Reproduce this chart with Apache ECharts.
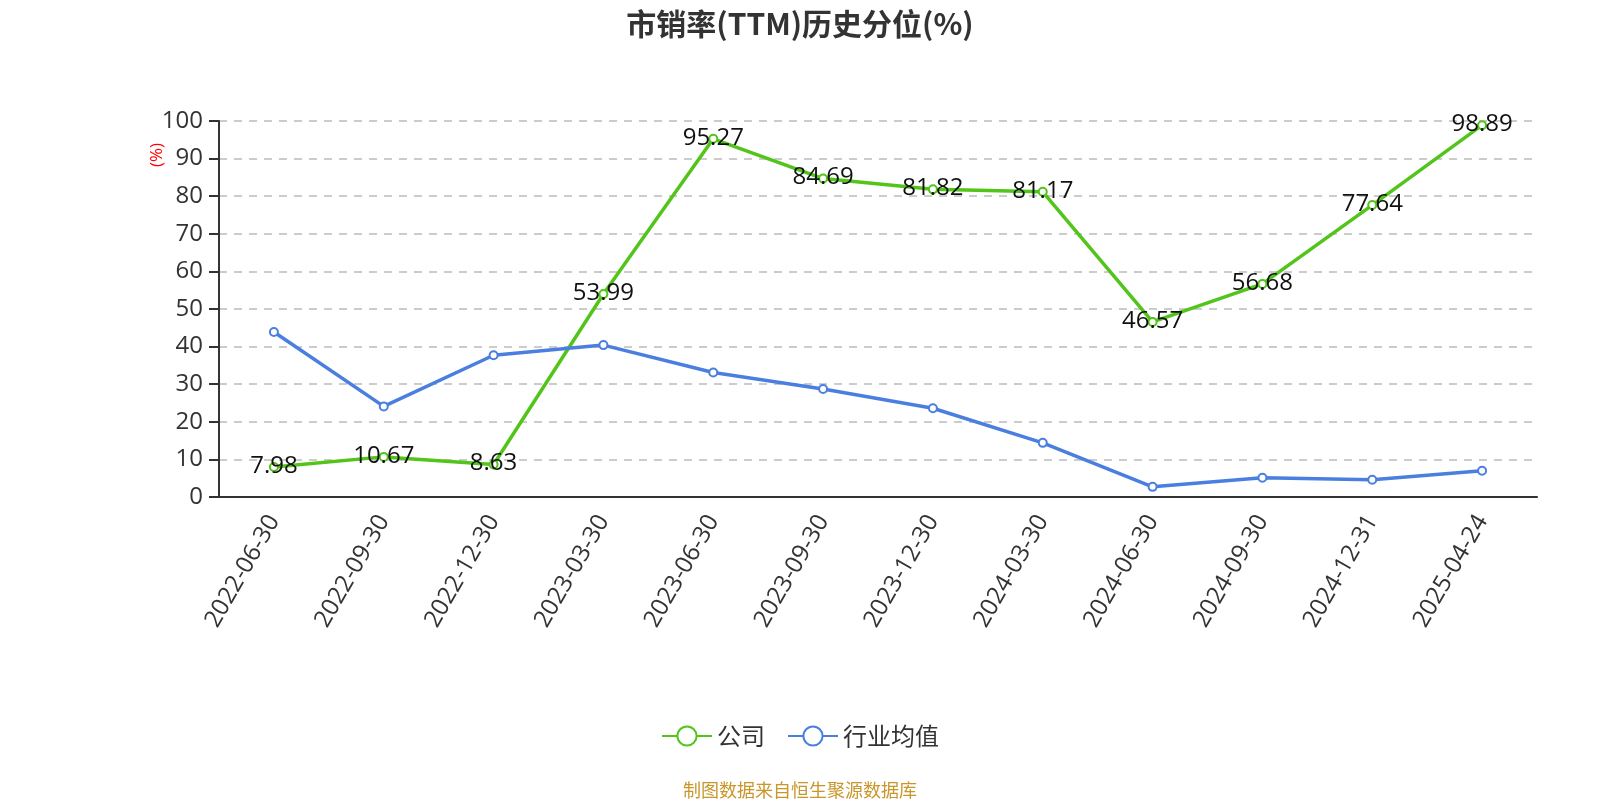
<!DOCTYPE html>
<html><head><meta charset="utf-8">
<script src="https://cdn.jsdelivr.net/npm/echarts@6/dist/echarts.min.js"></script>
<style>html,body{margin:0;padding:0;background:#fff}#c{width:1600px;height:800px}</style>
</head><body><div id="c"></div>
<script>
const categories = ['2022-06-30','2022-09-30','2022-12-30','2023-03-30','2023-06-30','2023-09-30','2023-12-30','2024-03-30','2024-06-30','2024-09-30','2024-12-31','2025-04-24'];
const companyValues = [7.98,10.67,8.63,53.99,95.27,84.69,81.82,81.17,46.57,56.68,77.64,98.89];
const industryValues = [43.9,24.1,37.7,40.4,33.1,28.7,23.6,14.4,2.7,5.1,4.6,7.0];
const yTicks = {min:0,max:100,interval:10};
const titleText = '市销率(TTM)历史分位(%)';
const yAxisName = '(%)';
const sourceText = '制图数据来自恒生聚源数据库';

const chart = echarts.init(document.getElementById('c'));
const font = '"Open Sans","Noto Sans CJK SC",sans-serif';
const cjk = '"Noto Sans CJK SC","Open Sans",sans-serif';
chart.setOption({
  animation:false,
  textStyle:{fontFamily:font},
  title:[{text:titleText,left:'center',top:4,textStyle:{fontSize:30,fontWeight:'bold',color:'#333',fontFamily:cjk}},
         {text:sourceText,left:'center',top:776,textStyle:{fontSize:18,fontWeight:'normal',color:'#c8962a',fontFamily:cjk}}],
  graphic:[{type:'text',x:157,y:155,rotation:Math.PI/2,style:{text:yAxisName,fill:'#ff0000',font:'17px "Open Sans",sans-serif',align:'center',verticalAlign:'middle'}}],
  legend:{top:719,left:'center',itemWidth:50,itemHeight:24,itemGap:22,textStyle:{fontSize:24,color:'#333',fontFamily:cjk},
    lineStyle:{width:2},itemStyle:{borderWidth:2},
    data:['公司','行业均值']},
  grid:{left:219,right:63,top:121,bottom:303},
  xAxis:{type:'category',data:categories,boundaryGap:true,
    axisLine:{lineStyle:{color:'#333',width:2}},axisTick:{length:8,lineStyle:{color:'#333',width:2}},
    axisLabel:{rotate:60,fontSize:24,color:'#333',margin:20,interval:0}},
  yAxis:{type:'value',min:yTicks.min,max:yTicks.max,interval:yTicks.interval,
    axisLine:{show:true,lineStyle:{color:'#333',width:2}},axisTick:{show:true,length:10,lineStyle:{color:'#333',width:2}},
    axisLabel:{fontSize:24,color:'#333',margin:16},
    splitLine:{lineStyle:{type:[8,7],color:'#cccccc',width:2}}},
  series:[
    {name:'公司',type:'line',data:companyValues,symbol:'emptyCircle',symbolSize:8,color:'#52c41a',
      lineStyle:{width:3.5},itemStyle:{color:'#52c41a',borderWidth:2},
      label:{show:true,position:'inside',fontSize:24,color:'#111',offset:[0,-1]}},
    {name:'行业均值',type:'line',data:industryValues,symbol:'emptyCircle',symbolSize:8,color:'#4a7fe0',
      lineStyle:{width:3.5},itemStyle:{color:'#4a7fe0',borderWidth:2}}
  ]
});
</script></body></html>
